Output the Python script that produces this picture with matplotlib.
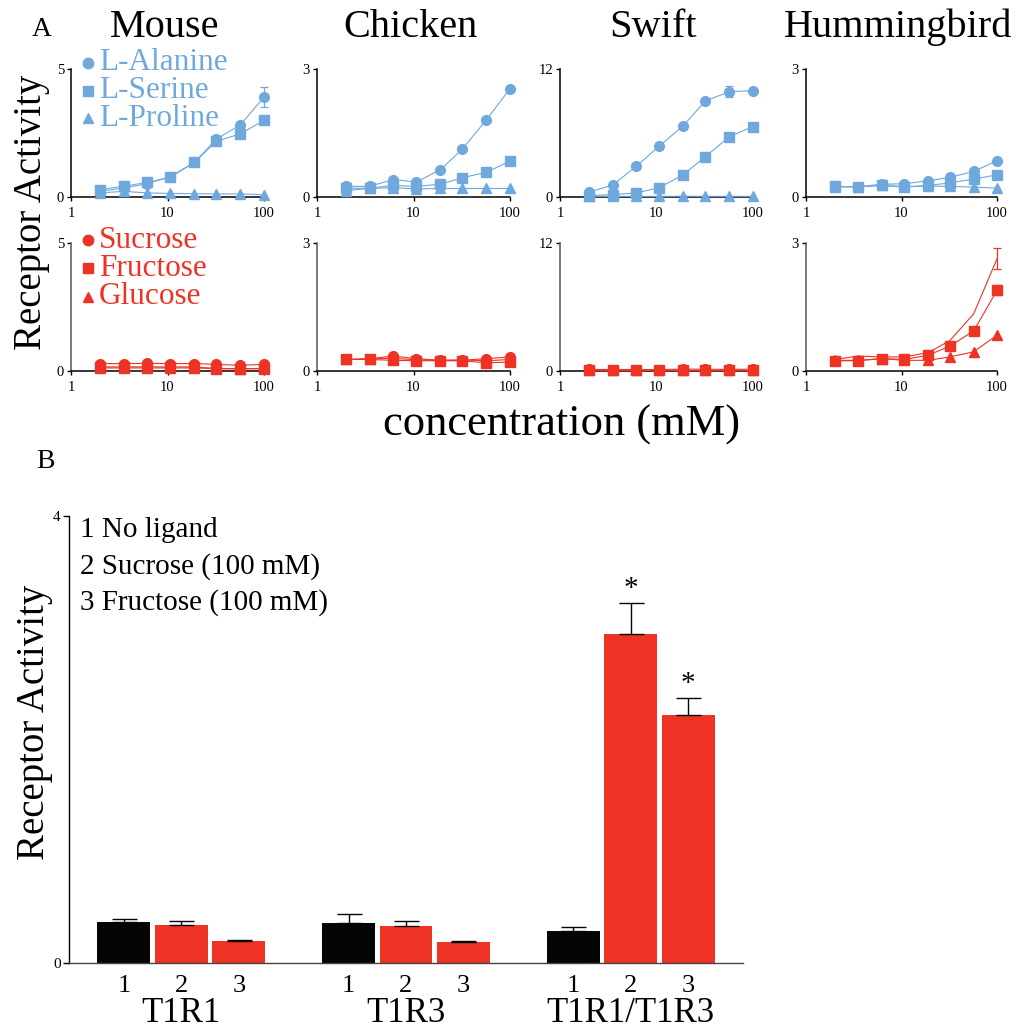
import numpy as np
import matplotlib
matplotlib.use("Agg")
import matplotlib.pyplot as plt
from matplotlib.ticker import FixedLocator, NullLocator

plt.rcParams['font.family'] = ['Liberation Serif', 'DejaVu Serif']

# concentrations (mM)
conc = [2, 3.5, 6.2, 10.7, 19, 32, 57, 100]

# amino acids (top row)
mouse_ala = [0.22, 0.35, 0.52, 0.80, 1.35, 2.26, 2.82, 3.90]
mouse_ser = [0.29, 0.42, 0.57, 0.77, 1.35, 2.17, 2.47, 2.99]
mouse_pro = [0.16, 0.22, 0.16, 0.14, 0.13, 0.12, 0.12, 0.09]
mouse_ala_err = [0, 0, 0, 0, 0, 0, 0, 0.40]
chicken_ala = [0.25, 0.25, 0.41, 0.35, 0.64, 1.12, 1.81, 2.54]
chicken_ser = [0.20, 0.21, 0.27, 0.25, 0.30, 0.45, 0.58, 0.84]
chicken_pro = [0.15, 0.20, 0.22, 0.19, 0.20, 0.20, 0.20, 0.20]
swift_ala = [0.47, 1.10, 2.90, 4.78, 6.70, 9.00, 9.87, 9.97]
swift_ser = [0.13, 0.22, 0.38, 0.88, 2.10, 3.77, 5.66, 6.60]
swift_pro = [0.06, 0.06, 0.06, 0.06, 0.07, 0.06, 0.06, 0.06]
swift_ala_err = [0, 0, 0.30, 0.30, 0, 0, 0.50, 0]
swift_ser_err = [0, 0, 0, 0, 0, 0, 0, 0.30]
humm_ala = [0.24, 0.24, 0.30, 0.31, 0.38, 0.46, 0.60, 0.85]
humm_ser = [0.25, 0.24, 0.27, 0.23, 0.27, 0.33, 0.42, 0.52]
humm_pro = [0.24, 0.24, 0.27, 0.25, 0.25, 0.25, 0.23, 0.21]

# sugars (bottom row)
mouse_suc = [0.29, 0.29, 0.30, 0.29, 0.29, 0.26, 0.22, 0.26]
mouse_fru = [0.16, 0.16, 0.16, 0.16, 0.16, 0.09, 0.09, 0.09]
mouse_glu = [0.12, 0.12, 0.12, 0.12, 0.12, 0.10, 0.08, 0.10]
chicken_suc = [0.27, 0.29, 0.35, 0.29, 0.25, 0.25, 0.29, 0.33]
chicken_fru = [0.27, 0.27, 0.25, 0.24, 0.24, 0.24, 0.19, 0.21]
chicken_glu = [0.27, 0.28, 0.30, 0.26, 0.25, 0.26, 0.24, 0.27]
swift_suc = [0.15, 0.14, 0.14, 0.13, 0.18, 0.16, 0.15, 0.17]
swift_fru = [0.12, 0.12, 0.12, 0.12, 0.12, 0.12, 0.12, 0.12]
swift_glu = [0.10, 0.10, 0.10, 0.10, 0.10, 0.10, 0.10, 0.10]
humm_suc = [0.27, 0.35, 0.33, 0.33, 0.43, 0.71, 1.34, 2.63]
humm_fru = [0.24, 0.24, 0.29, 0.27, 0.37, 0.58, 0.94, 1.89]
humm_glu = [0.25, 0.25, 0.29, 0.25, 0.25, 0.33, 0.45, 0.84]
humm_suc_err = [0, 0, 0, 0, 0, 0, 0, 0.25]
humm_fru_err = [0, 0, 0, 0, 0, 0, 0, 0.12]

species = ["Mouse", "Chicken", "Swift", "Hummingbird"]
ymax = [5, 3, 12, 3]

# panel B
receptors = ["T1R1", "T1R3", "T1R1/T1R3"]
no_ligand = [0.37, 0.36, 0.29]
no_ligand_err = [0.02, 0.08, 0.03]
sucrose = [0.34, 0.33, 2.94]
sucrose_err = [0.04, 0.05, 0.28]
fructose = [0.20, 0.19, 2.22]
fructose_err = [0.01, 0.01, 0.15]
sucrose_sig = [False, False, True]
fructose_sig = [False, False, True]

BLUE = '#6FA8DC'
RED = '#EE3224'
BLACK = '#050505'

W, H = 1021, 1035
fig = plt.figure(figsize=(W / 100, H / 100), dpi=100)


def px_axes(l, r, t, b):
    return fig.add_axes([l / W, 1 - b / H, (r - l) / W, (b - t) / H])


def ftext(x, y, s, **kw):
    return fig.text(x / W, 1 - y / H, s, **kw)


def style_curve_axes(ax, top, left_color='black'):
    ax.set_xscale('log')
    ax.set_xlim(1, 100)
    ax.set_ylim(0, top)
    ax.xaxis.set_major_locator(FixedLocator([1, 10, 100]))
    ax.xaxis.set_minor_locator(NullLocator())
    ax.set_xticklabels(["1", "10", "100"])
    ax.set_yticks([0, top])
    ax.set_yticklabels(["0", str(top)])
    for s in ['top', 'right']:
        ax.spines[s].set_visible(False)
    ax.spines['left'].set_color(left_color)
    ax.spines['left'].set_linewidth(1.1)
    ax.spines['bottom'].set_linewidth(1.1)
    ax.tick_params(length=3, width=1, labelsize=10.5, pad=2)
    ax.tick_params(axis='x', pad=4)
    ax.patch.set_alpha(0)


def curve(ax, y, color, marker, err=None):
    ax.plot(conc, y, color=color, lw=0.8, marker=marker, ms=7,
            mec=color, mfc=color, clip_on=False, zorder=3)
    if err is not None:
        idx = [i for i, e in enumerate(err) if e > 0]
        ax.errorbar([conc[i] for i in idx], [y[i] for i in idx],
                    yerr=[err[i] for i in idx], fmt='none', ecolor=color,
                    elinewidth=0.9, capsize=3, capthick=0.9, clip_on=False, zorder=3)


top_x = [(71, 264), (317, 510), (560, 753), (806, 997)]

amino = [
    (mouse_ala, mouse_ser, mouse_pro, mouse_ala_err, None),
    (chicken_ala, chicken_ser, chicken_pro, None, None),
    (swift_ala, swift_ser, swift_pro, swift_ala_err, swift_ser_err),
    (humm_ala, humm_ser, humm_pro, None, None),
]
sugars = [
    (mouse_suc, mouse_fru, mouse_glu, None, None),
    (chicken_suc, chicken_fru, chicken_glu, None, None),
    (swift_suc, swift_fru, swift_glu, None, None),
    (humm_suc, humm_fru, humm_glu, humm_suc_err, humm_fru_err),
]

axes_top, axes_bot = [], []
for i, (l, r) in enumerate(top_x):
    ax = px_axes(l, r, 69, 197)
    style_curve_axes(ax, ymax[i])
    ala, ser, pro, e1, e2 = amino[i]
    curve(ax, pro, BLUE, '^')
    curve(ax, ser, BLUE, 's', e2)
    curve(ax, ala, BLUE, 'o', e1)
    axes_top.append(ax)

    ax = px_axes(l, r, 243, 371)
    style_curve_axes(ax, ymax[i], left_color='#555555')
    suc, fru, glu, e1, e2 = sugars[i]
    curve(ax, glu, RED, '^')
    # hummingbird sucrose drawn without markers, as in the original
    curve(ax, suc, RED, None if i == 3 else 'o', e1)
    curve(ax, fru, RED, 's', e2)
    axes_bot.append(ax)

# titles
for (l, r), name in zip(top_x, species):
    ftext((l + r) / 2 - 3, 37, name, ha='center', va='baseline', fontsize=29)

# legends in mouse panels
for lab, mk, py in [("L-Alanine", 'o', 63), ("L-Serine", 's', 91), ("L-Proline", '^', 118)]:
    fig.lines.append(plt.Line2D([88 / W], [1 - py / H], marker=mk, ms=7.5, color=BLUE,
                                transform=fig.transFigure))
    ftext(99, py, lab, color=BLUE, fontsize=22.5, va='center')
for lab, mk, py in [("Sucrose", 'o', 240), ("Fructose", 's', 268), ("Glucose", '^', 297)]:
    fig.lines.append(plt.Line2D([88 / W], [1 - py / H], marker=mk, ms=7.5, color=RED,
                                transform=fig.transFigure))
    ftext(99, py, lab, color=RED, fontsize=22.5, va='center')

ftext(42, 30, "A", fontsize=20, ha='center', va='center')
ftext(32, 212, "Receptor Activity", fontsize=28, rotation=90, ha='center', va='center')
ftext(562, 425, "concentration (mM)", fontsize=32, ha='center', va='center')

# panel B
ftext(45, 462, "B", fontsize=20, ha='center', va='center')
axb = px_axes(69, 743, 516, 963)
x = np.arange(len(receptors))
off = 0.2556
wid = 0.2356
ekw = dict(ecolor=BLACK, elinewidth=1.0, capsize=9, capthick=1.0)
axb.bar(x - off, no_ligand, wid, color=BLACK,
        yerr=[np.zeros(3), no_ligand_err], error_kw=ekw)
axb.bar(x, sucrose, wid, color=RED,
        yerr=[np.zeros(3), sucrose_err], error_kw=ekw)
axb.bar(x + off, fructose, wid, color=RED,
        yerr=[np.zeros(3), fructose_err], error_kw=ekw)
for i in range(3):
    if sucrose_sig[i]:
        axb.text(x[i], sucrose[i] + sucrose_err[i] + 0.01, "*", ha='center',
                 va='bottom', fontsize=21)
    if fructose_sig[i]:
        axb.text(x[i] + off, fructose[i] + fructose_err[i] + 0.01, "*", ha='center',
                 va='bottom', fontsize=21)
axb.set_xlim(-0.5, 2.5)
axb.set_ylim(0, 4)
axb.set_yticks([0, 4])
axb.tick_params(axis='y', length=4, width=1, labelsize=11, pad=2)
pos = np.concatenate([x - off, x, x + off])
axb.set_xticks(pos)
axb.set_xticklabels(["1"] * 3 + ["2"] * 3 + ["3"] * 3)
axb.tick_params(axis='x', length=0, labelsize=19, pad=9)
for s in ['top', 'right']:
    axb.spines[s].set_visible(False)
axb.spines['left'].set_linewidth(1.0)
axb.spines['bottom'].set_linewidth(1.0)
axb.spines['bottom'].set_color('#444444')
for i, rec in enumerate(receptors):
    axb.text(x[i], -0.45, rec, ha='center', va='center', fontsize=25,
             transform=axb.transData, clip_on=False)

for j, lab in enumerate(["1 No ligand", "2 Sucrose (100 mM)", "3 Fructose (100 mM)"]):
    ftext(80, 530 + 36.5 * j, lab, fontsize=21, va='center')

ftext(35, 722, "Receptor Activity", fontsize=28, rotation=90, ha='center', va='center')

fig.savefig("out.png", dpi=100)
